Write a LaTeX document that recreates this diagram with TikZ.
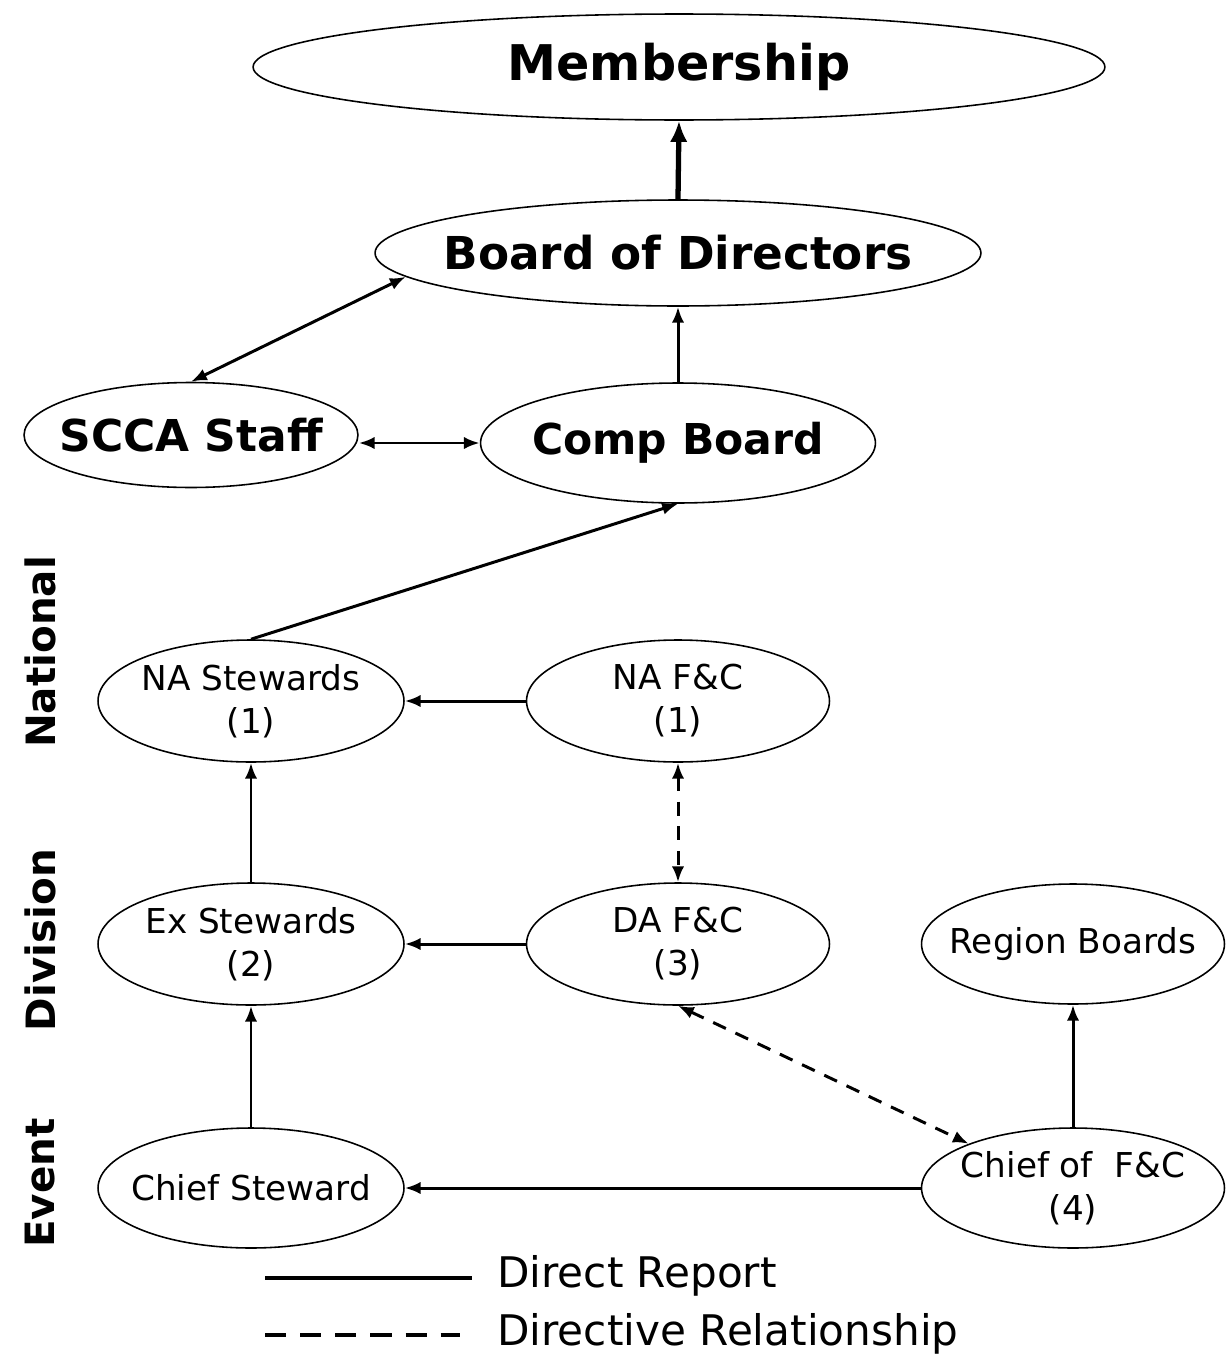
\documentclass[tikz,border=0pt]{standalone}
\usepackage{fontspec}
\setmainfont{DejaVu Sans}
\usetikzlibrary{shapes.geometric,arrows.meta}
\begin{document}
\begin{tikzpicture}[x=0.02cm,y=-0.02cm,
  oval/.style={draw, ellipse, line width=0.9pt, inner sep=0pt},
  bigtext/.style={align=center, inner sep=0pt, font=\bfseries\fontsize{25}{30}\selectfont},
  smalltext/.style={align=center, inner sep=0pt, font=\fontsize{19.5}{24.5}\selectfont},
  smalloval/.style={oval, minimum width=6.12cm, minimum height=2.44cm},
  rep/.style={line width=1.7pt, -{Latex[length=9pt,width=7pt]}},
  both/.style={line width=1.7pt, {Latex[length=9pt,width=7pt]}-{Latex[length=9pt,width=7pt]}},
  dir/.style={both, dash pattern=on 8pt off 6pt},
  level/.style={rotate=90, font=\bfseries\fontsize{23}{26}\selectfont},
  legend/.style={anchor=base west, inner sep=0pt, font=\fontsize{24}{26}\selectfont}
]
\useasboundingbox (0,0) rectangle (1231,1359);

\node[oval, minimum width=17.04cm, minimum height=2.12cm,
  label={[bigtext, font=\bfseries\fontsize{28}{32}\selectfont]center:Membership}] (mem) at (679,67) {};
\node[oval, minimum width=12.12cm, minimum height=2.12cm,
  label={[bigtext, font=\bfseries\fontsize{25.8}{30}\selectfont]center:Board of Directors}] (bod) at (678,253) {};
\node[oval, minimum width=6.68cm, minimum height=2.1cm,
  label={[bigtext]center:SCCA Staff}] (scca) at (191,435) {};
\node[oval, minimum width=7.9cm, minimum height=2.4cm,
  label={[bigtext, font=\bfseries\fontsize{24.2}{30}\selectfont]center:Comp Board}] (cb) at (678,443) {};

\node[smalloval, label={[smalltext]center:NA Stewards\\(1)}] (nas) at (251,701) {};
\node[smalloval, minimum width=6.06cm, label={[smalltext]center:NA F\&C\\(1)}] (nafc) at (678,701) {};
\node[smalloval, label={[smalltext]center:Ex Stewards\\(2)}] (exs) at (251,944) {};
\node[smalloval, minimum width=6.06cm, label={[smalltext]center:DA F\&C\\(3)}] (dafc) at (678,944) {};
\node[smalloval, minimum width=6.06cm, minimum height=2.4cm, label={[smalltext]center:Region Boards}] (rb) at (1073,944) {};
\node[smalloval, minimum height=2.4cm, label={[smalltext]center:Chief Steward}] (cs) at (251,1188) {};
\node[smalloval, minimum width=6.06cm, minimum height=2.4cm, label={[smalltext]center:Chief of\ \ F\&C\\(4)}] (cfc) at (1073,1188) {};

\node[level] (lnat) at (40,652) {National};
\node[level] (ldiv) at (40,940) {Division};
\node[level] (levt) at (40,1183) {Event};

% connectors
\draw[line width=3pt, -{Latex[length=12pt,width=10pt]}] (bod.north) -- (mem.south);
\draw[rep] (cb.north) -- (bod.south);
\draw[both] (scca.north) -- (bod.185);
\draw[both] (scca.east |- cb.west) -- (cb.west);
\draw[rep] (nas.north) -- (cb.south);
\draw[rep] (nafc.west) -- (nas.east);
\draw[rep] (exs.north) -- (nas.south);
\draw[rep] (dafc.west) -- (exs.east);
\draw[dir] (nafc.south) -- (dafc.north);
\draw[rep] (cs.north) -- (exs.south);
\draw[rep] (cfc.west) -- (cs.east);
\draw[rep] (cfc.north) -- (rb.south);
\draw[dir] (dafc.south) -- (cfc.157);

% legend
\coordinate (l1a) at (265,1278);
\coordinate (l1b) at (472,1278);
\coordinate (l2a) at (265,1335);
\coordinate (l2b) at (460,1335);
\draw[line width=2pt] (l1a) -- (l1b);
\draw[line width=2pt, dash pattern=on 12pt off 8pt] (l2a) -- (l2b);
\node[legend] (t1) at (497,1287) {Direct Report};
\node[legend] (t2) at (497,1345) {Directive Relationship};
\end{tikzpicture}
\end{document}
